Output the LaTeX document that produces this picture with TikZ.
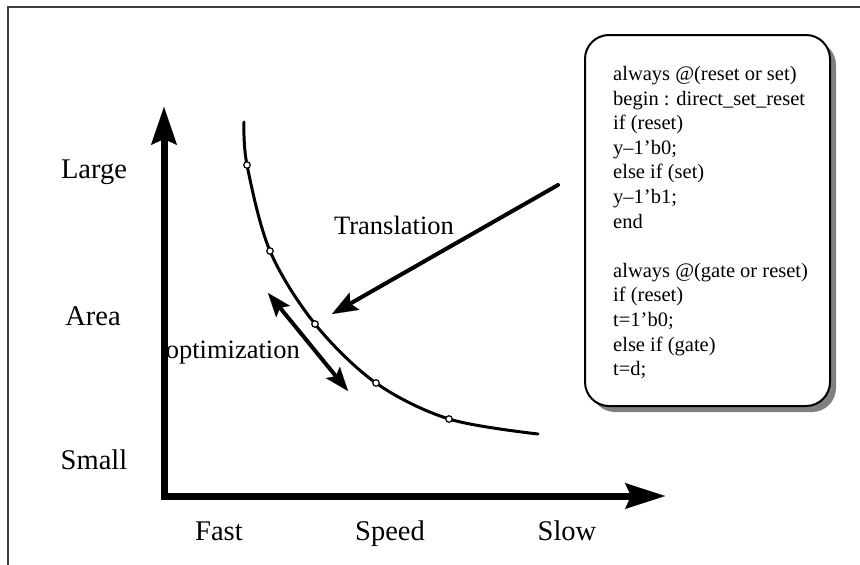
\documentclass[tikz,border=0pt]{standalone}
\usepackage{fontspec}
\setmainfont{Liberation Serif}
\usetikzlibrary{arrows.meta}
\begin{document}
\begin{tikzpicture}[x=1pt,y=-1pt,
  axislabel/.style={font=\fontsize{28.5}{34}\selectfont, inner sep=0pt},
  arrowlabel/.style={font=\fontsize{26.5}{32}\selectfont, inner sep=0pt},
  axisline/.style={line width=7pt, line join=miter,
    {Stealth[length=38pt,width=26pt,inset=6pt,line width=0.1pt]}-{Stealth[length=40pt,width=26pt,inset=6pt,line width=0.1pt]}},
  bigarrow/.style={line width=4pt, -{Stealth[length=26pt,width=20pt,inset=5pt,line width=0.1pt]}},
  twoway/.style={line width=4pt, {Stealth[length=24pt,width=18pt,inset=5pt,line width=0.1pt]}-{Stealth[length=24pt,width=18pt,inset=5pt,line width=0.1pt]}},
  marker/.style={circle, draw, fill=white, line width=1.2pt, inner sep=0pt, minimum size=6.5pt},
  codebox/.style={draw, line width=2pt, fill=white, rounded corners=24pt},
  codeshadow/.style={fill=black!50, rounded corners=24pt},
  frameline/.style={line width=1.5pt, draw=black!75},
  codetext/.style={font=\fontsize{20.5}{24.6}\selectfont, align=left, inner sep=0pt}]
\useasboundingbox (0,0) rectangle (860,565);

% outer frame (top and left edges only)
\draw[frameline] (8,565) -- (8,7) -- (860,7);

% code panel with its shadow
\fill[codeshadow] (591,41) rectangle (836,412);
\draw[codebox] (585,35) rectangle (830,406);
\node[codetext, anchor=north west] (code) at (613,66) {%
always @(reset or set)\\
begin : direct\_set\_reset\\
if (reset)\\
y–1'b0;\\
else if (set)\\
y–1'b1;\\
end\\[24.6pt]
always @(gate or reset)\\
if (reset)\\
t=1'b0;\\
else if (gate)\\
t=d;};

% axis labels
\node[axislabel] (large) at (94,172) {Large};
\node[axislabel] (area)  at (93,316) {Area};
\node[axislabel] (small) at (94,460) {Small};
\node[axislabel, anchor=base] (fast)  at (219,540) {Fast};
\node[axislabel, anchor=base] (speed) at (390,540) {Speed};
\node[axislabel, anchor=base] (slow)  at (567,540) {Slow};

% arrow labels
\node[arrowlabel] (translation) at (394,225) {Translation};
\node[arrowlabel, anchor=east] (optimization) at (300,353) {optimization};

% axes
\coordinate (ytip) at (164,107);
\coordinate (origin) at (164,496);
\coordinate (xtip) at (665,496);
\draw[axisline] (ytip) -- (origin) -- (xtip);

% area/speed trade-off curve
\draw[line width=3pt, line cap=round] plot[smooth, tension=0.55] coordinates
  {(244,122) (247,165) (270,251) (315,324) (376,383) (449,419) (538,434)};
\node[marker] (p1) at (247,165) {};
\node[marker] (p2) at (270,251) {};
\node[marker] (p3) at (315,324) {};
\node[marker] (p4) at (376,383) {};
\node[marker] (p5) at (449,419) {};

% translation and optimization arrows
\coordinate (trfrom) at (558,185);
\coordinate (trto) at (332,314);
\draw[bigarrow, line cap=round] (trfrom) -- (trto);
\coordinate (opta) at (268,293);
\coordinate (optb) at (348,391);
\draw[twoway] (opta) -- (optb);
\end{tikzpicture}
\end{document}
